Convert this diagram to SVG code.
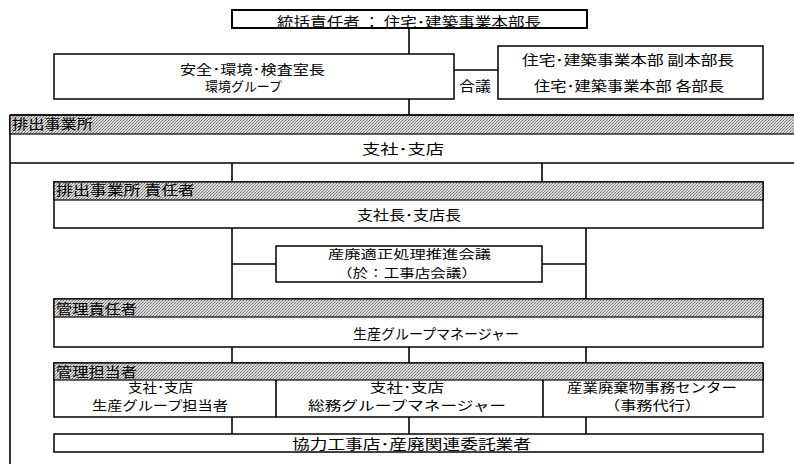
<svg xmlns="http://www.w3.org/2000/svg" width="794" height="464" viewBox="0 0 794 464">
<defs>
<pattern id="dither" width="3" height="3" patternUnits="userSpaceOnUse">
<rect width="3" height="3" fill="#d8d8d8"/>
<rect x="0" y="0" width="1" height="1" fill="#707070"/>
<rect x="2" y="1" width="1" height="1" fill="#909090"/>
<rect x="1" y="2" width="1" height="1" fill="#808080"/>
</pattern>
</defs>
<style>
text{font-family:"Noto Sans CJK JP","Liberation Sans",sans-serif;font-size:14px;fill:#000}
.two{font-size:13px}
.sm{font-size:12px}
.box{fill:#fff;stroke:#000;stroke-width:1.5}
.thick{fill:#fff;stroke:#000;stroke-width:2}
.band{fill:url(#dither);stroke:#000;stroke-width:1.2}
.ln{fill:none;stroke:#000;stroke-width:1.6}
.m{text-anchor:middle}
</style>
<rect width="794" height="464" fill="#fff"/>

<g id="connectors">
<line class="ln" x1="409" y1="28" x2="409" y2="54"/>
<line class="ln" x1="409" y1="99" x2="409" y2="115"/>
<line class="ln" x1="454" y1="70" x2="498" y2="70"/>
<line class="ln" x1="232" y1="163" x2="232" y2="182"/>
<line class="ln" x1="542" y1="163" x2="542" y2="182"/>
<line class="ln" x1="232" y1="228" x2="232" y2="299"/>
<line class="ln" x1="586" y1="228" x2="586" y2="299"/>
<line class="ln" x1="232" y1="264" x2="276" y2="264"/>
<line class="ln" x1="542" y1="264" x2="586" y2="264"/>
<line class="ln" x1="232" y1="347" x2="232" y2="363"/>
<line class="ln" x1="409" y1="347" x2="409" y2="363"/>
<line class="ln" x1="586" y1="347" x2="586" y2="363"/>
<line class="ln" x1="232" y1="417" x2="232" y2="434"/>
<line class="ln" x1="409" y1="417" x2="409" y2="434"/>
<line class="ln" x1="586" y1="417" x2="586" y2="434"/>
<text x="475" y="90.5" class="m" textLength="32" lengthAdjust="spacingAndGlyphs">合議</text>
</g>

<g id="top">
<rect class="thick" x="232" y="10" width="355" height="18"/>
<text x="409" y="26.5" class="m" font-size="15" textLength="264" lengthAdjust="spacingAndGlyphs">統括責任者 ： 住宅･建築事業本部長</text>
</g>

<g id="env">
<rect class="box" x="54" y="54" width="400" height="45"/>
<text x="252.5" y="73.5" class="m two" textLength="145" lengthAdjust="spacingAndGlyphs">安全･環境･検査室長</text>
<text x="243.5" y="91" class="m two" textLength="77" lengthAdjust="spacingAndGlyphs">環境グループ</text>
</g>

<g id="hq">
<rect class="box" x="498" y="46" width="265" height="53"/>
<text x="628" y="65" class="m" textLength="212" lengthAdjust="spacingAndGlyphs">住宅･建築事業本部 副本部長</text>
<text x="629" y="90.5" class="m" textLength="190" lengthAdjust="spacingAndGlyphs">住宅･建築事業本部 各部長</text>
</g>

<g id="site">
<line class="ln" x1="10" y1="115" x2="10" y2="464" stroke-width="2"/>
<rect class="band" x="10" y="115" width="790" height="19"/>
<line class="ln" x1="10" y1="115" x2="794" y2="115" stroke-width="2"/>
<line class="ln" x1="10" y1="163" x2="794" y2="163"/>
<text x="12" y="129" textLength="81" lengthAdjust="spacingAndGlyphs">排出事業所</text>
<text x="403" y="153.5" class="m" textLength="82" lengthAdjust="spacingAndGlyphs">支社･支店</text>
</g>

<g id="site-manager">
<rect class="box" x="54" y="182" width="709" height="46"/>
<rect class="band" x="54" y="182" width="709" height="18"/>
<text x="56" y="195" textLength="139" lengthAdjust="spacingAndGlyphs">排出事業所 責任者</text>
<text x="409" y="220" class="m" textLength="104" lengthAdjust="spacingAndGlyphs">支社長･支店長</text>
</g>

<g id="council">
<rect class="box" x="276" y="246" width="266" height="36"/>
<text x="409.5" y="259" class="m sm" textLength="163" lengthAdjust="spacingAndGlyphs">産廃適正処理推進会議</text>
<text x="407" y="277.5" class="m sm" textLength="140" lengthAdjust="spacingAndGlyphs">（於：工事店会議）</text>
</g>

<g id="mgmt">
<rect class="box" x="54" y="299" width="709" height="48"/>
<rect class="band" x="54" y="299" width="709" height="18"/>
<text x="56" y="314" textLength="81" lengthAdjust="spacingAndGlyphs">管理責任者</text>
<text x="353" y="338.5" textLength="166" lengthAdjust="spacingAndGlyphs">生産グループマネージャー</text>
</g>

<g id="staff">
<rect class="box" x="54" y="363" width="709" height="54"/>
<rect class="band" x="54" y="363" width="709" height="17"/>
<line class="ln" x1="276" y1="380" x2="276" y2="417" stroke-width="1.3"/>
<line class="ln" x1="543" y1="380" x2="543" y2="417" stroke-width="1.3"/>
<text x="56" y="377" textLength="81" lengthAdjust="spacingAndGlyphs">管理担当者</text>
<text x="160.5" y="392" class="m two" textLength="65" lengthAdjust="spacingAndGlyphs">支社･支店</text>
<text x="160" y="410" class="m two" textLength="136" lengthAdjust="spacingAndGlyphs">生産グループ担当者</text>
<text x="407" y="392" class="m two" textLength="74" lengthAdjust="spacingAndGlyphs">支社･支店</text>
<text x="407" y="410" class="m two" textLength="198" lengthAdjust="spacingAndGlyphs">総務グループマネージャー</text>
<text x="652" y="392" class="m two" textLength="170" lengthAdjust="spacingAndGlyphs">産業廃棄物事務センター</text>
<text x="652.5" y="410" class="m two" textLength="97" lengthAdjust="spacingAndGlyphs">（事務代行）</text>
</g>

<g id="contractors">
<rect class="box" x="54" y="434" width="709" height="18"/>
<text x="411.5" y="449" class="m" textLength="239" lengthAdjust="spacingAndGlyphs">協力工事店･産廃関連委託業者</text>
</g>
</svg>
